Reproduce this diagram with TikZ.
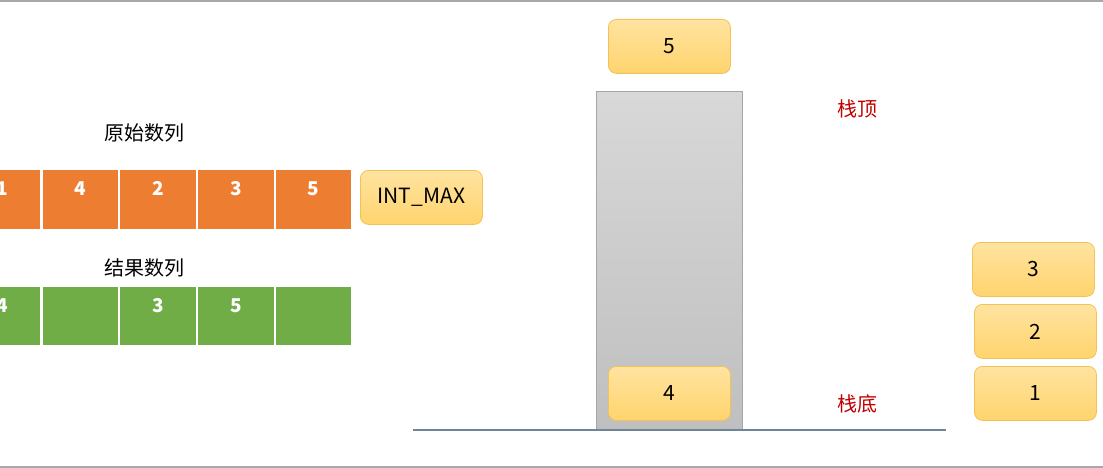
\documentclass[tikz,border=0pt]{standalone}
\usepackage{fontspec}
\setmainfont{Noto Sans CJK SC}
\definecolor{org}{HTML}{ED7D31}
\definecolor{grn}{HTML}{70AD47}
\definecolor{ybord}{HTML}{F2C257}
\definecolor{ytop}{HTML}{FFE3A0}
\definecolor{ybot}{HTML}{FFD46E}
\definecolor{gtop}{HTML}{D8D8D8}
\definecolor{gbot}{HTML}{BFBFBF}
\definecolor{gbord}{HTML}{A6A6A6}
\definecolor{redtxt}{HTML}{C00000}
\definecolor{baseln}{HTML}{6D8595}
\definecolor{frame}{HTML}{A8A8A8}
\tikzset{
  cellbox/.style={anchor=north west, inner sep=0pt, minimum width=75.5pt,
    text=white, font=\fontsize{19}{22}\selectfont\bfseries,
    text height=14pt, text depth=22pt},
  orgcell/.style={cellbox, fill=org, minimum height=59pt},
  grncell/.style={cellbox, fill=grn, minimum height=58pt},
  ybox/.style={rounded corners=8pt, draw=ybord, line width=0.8pt,
    top color=ytop, bottom color=ybot, minimum width=122pt, minimum height=54pt,
    inner sep=0pt, font=\fontsize{21}{25}\selectfont},
  cnlabel/.style={font=\fontsize{20}{24}\selectfont, inner sep=0pt},
  redlabel/.style={cnlabel, text=redtxt},
}
\begin{document}
\begin{tikzpicture}[x=1pt,y=-1pt]
\useasboundingbox (0,0) rectangle (1103,468);
\clip (0,0) rectangle (1103,468);
% frame lines
\draw[frame, line width=2pt] (0,1) coordinate (ftl) -- (1103,1) coordinate (ftr);
\draw[frame, line width=2pt] (0,466.5) coordinate (fbl) -- (1103,466.5) coordinate (fbr);
% labels
\node[cnlabel] (lorig) at (144,133) {原始数列};
\node[cnlabel] (lres) at (144,268) {结果数列};
% orange row
\node[orgcell] (o1) at (-35.25,170) {1};
\node[orgcell] (o2) at (42.5,170) {4};
\node[orgcell] (o3) at (120.25,170) {2};
\node[orgcell] (o4) at (198,170) {3};
\node[orgcell] (o5) at (275.75,170) {5};
\node[ybox, anchor=north west] (imax) at (360,170) {INT\_MAX};
% green row
\node[grncell] (g1) at (-35.25,287) {4};
\node[grncell] (g2) at (42.5,287) {};
\node[grncell] (g3) at (120.25,287) {3};
\node[grncell] (g4) at (198,287) {5};
\node[grncell] (g5) at (275.75,287) {};
% stack
\node[anchor=north west, draw=gbord, line width=0.6pt, top color=gtop, bottom color=gbot,
  minimum width=146pt, minimum height=339pt, inner sep=0pt] (stack) at (596,91) {};
\node[ybox, anchor=north west] (top5) at (608,19) {5};
\node[ybox, anchor=north west] (s4) at (608,366) {4};
\coordinate (bl) at (413,430);
\coordinate (br) at (946,430);
\draw[baseln, line width=1.2pt] (bl) -- (br);
\node[redlabel] (ltop) at (857,109) {栈顶};
\node[redlabel] (lbot) at (857,404) {栈底};
% waiting elements
\node[ybox, anchor=north west] (w3) at (972,242) {3};
\node[ybox, anchor=north west] (w2) at (974,304) {2};
\node[ybox, anchor=north west] (w1) at (974,366) {1};
\end{tikzpicture}
\end{document}
